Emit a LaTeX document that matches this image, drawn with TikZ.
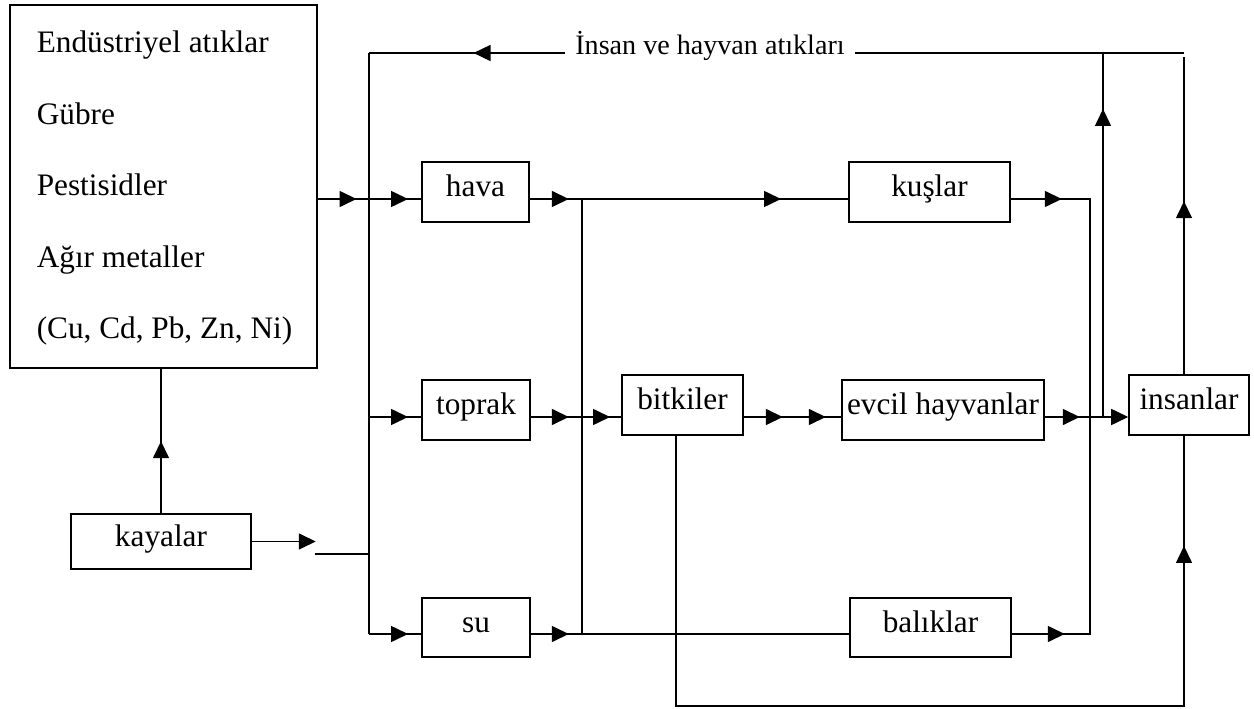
\documentclass[tikz,border=0pt]{standalone}
\usepackage{fontspec}
\setmainfont{Liberation Serif}
\usetikzlibrary{arrows.meta}

\tikzset{
    kutu/.style={draw, inner sep=0pt, text height=0.3cm, text depth=0.1cm},
    ok/.style={-{Triangle[length=0.34cm, width=0.32cm]}}
}

\begin{document}
\begin{tikzpicture}[x=0.02cm, y=-0.02cm, line width=0.9pt, font=\fontsize{17.8}{21}\selectfont]
        \useasboundingbox (0,0) rectangle (1254,709);

        % Nodes
        \node[draw, inner sep=0pt, minimum width=6.14cm, minimum height=7.26cm, anchor=north west] at (9,4) (kaynak) {};
        \foreach \satir [count=\i] in {Endüstriyel atıklar, Gübre, Pestisidler, Ağır metaller, {(Cu, Cd, Pb, Zn, Ni)}}
            \node[anchor=base west, inner sep=0pt] at (36, {53+71.5*(\i-1)}) (madde\i) {\satir};

        \node[kutu, minimum width=3.6cm, minimum height=1.1cm] at (161, 541.5) (kayalar) {kayalar};
        \node[kutu, minimum width=2.14cm, minimum height=1.2cm] at (475.5, 192) (hava) {hava};
        \node[kutu, minimum width=2.16cm, minimum height=1.2cm] at (476, 410) (toprak) {toprak};
        \node[kutu, minimum width=2.16cm, minimum height=1.18cm] at (476, 627.5) (su) {su};
        \node[kutu, minimum width=2.42cm, minimum height=1.2cm] at (682.5, 405) (bitkiler) {bitkiler};
        \node[kutu, minimum width=3.22cm, minimum height=1.2cm] at (929.5, 192) (kuslar) {kuşlar};
        \node[kutu, minimum width=4.04cm, minimum height=1.2cm] at (943, 410) (evcil) {evcil hayvanlar};
        \node[kutu, minimum width=3.22cm, minimum height=1.18cm] at (930.5, 627.5) (baliklar) {balıklar};
        \node[kutu, minimum width=2.4cm, minimum height=1.2cm] at (1189, 405) (insanlar) {insanlar};
        \node[anchor=base, inner xsep=0.2cm, font=\fontsize{16}{19}\selectfont] at (710, 55) (etiket) {İnsan ve hayvan atıkları};

        % Junctions
        \coordinate (a1) at (369, 53);
        \coordinate (a2) at (369, 199);
        \coordinate (a3) at (369, 417);
        \coordinate (a4) at (369, 554);
        \coordinate (a5) at (369, 634);
        \coordinate (b1) at (582, 199);
        \coordinate (b2) at (582, 417);
        \coordinate (b3) at (582, 634);
        \coordinate (c1) at (1090, 199);
        \coordinate (c2) at (1090, 634);
        \coordinate (d1) at (1103, 53);
        \coordinate (d2) at (1103, 417);
        \coordinate (e1) at (1184, 53);
        \coordinate (e2) at (1184, 706);
        \coordinate (f1) at (676, 706);

        % kaynak and kayalar
        \draw (kaynak.east |- a2) -- (hava.west |- a2);
        \draw[ok] (kaynak.east |- a2) -- ++(39,0);
        \draw[ok] (a2) -- ++(39,0);
        \draw (kayalar.north) -- (kayalar.north |- kaynak.south);
        \draw[ok] (kayalar.north) -- ++(0,-72);
        \draw[ok] (kayalar.east) -- ++(64,0);
        \draw (a4) -- ++(-54,0);

        % first trunk
        \draw (a1) -- (a5);
        \draw (a3) -- (toprak.west |- a3);
        \draw[ok] (a3) -- ++(39,0);
        \draw (a5) -- (su.west |- a5);
        \draw[ok] (a5) -- ++(39,0);

        % second trunk
        \draw (hava.east |- b1) -- (kuslar.west |- b1);
        \draw[ok] (hava.east |- b1) -- ++(39,0);
        \draw[ok] (b1) -- ++(199,0);
        \draw (b1) -- (b3);
        \draw (toprak.east |- b2) -- (bitkiler.west |- b2);
        \draw[ok] (toprak.east |- b2) -- ++(38,0);
        \draw[ok] (b2) -- ++(28,0);
        \draw (su.east |- b3) -- (baliklar.west |- b3);
        \draw[ok] (su.east |- b3) -- ++(38,0);

        \draw (bitkiler.east |- b2) -- (evcil.west |- b2);
        \draw[ok] (bitkiler.east |- b2) -- ++(39,0);
        \draw[ok] (bitkiler.east |- b2) -- ++(82,0);

        % to insanlar
        \draw (kuslar.east |- c1) -- (c1) -- (c2) -- (baliklar.east |- c2);
        \draw[ok] (kuslar.east |- c1) -- ++(51,0);
        \draw[ok] (baliklar.east |- c2) -- ++(53,0);
        \draw (evcil.east |- d2) -- (d2);
        \draw[ok] (evcil.east |- d2) -- ++(35,0);
        \draw[ok] (d2) -- (insanlar.west |- d2);

        % back to the top
        \draw (d2) -- (d1);
        \draw[ok] (d2) -- ++(0,-308);
        \draw (e1) -- (etiket.east |- e1);
        \draw (etiket.west |- a1) -- (a1);
        \draw[ok] (etiket.west |- a1) -- ++(-91,0);
        \draw (insanlar.north -| e1) -- ++(0,-317);
        \draw[ok] (insanlar.north -| e1) -- ++(0,-173);

        % bitkiler to insanlar
        \draw (bitkiler.south -| f1) -- (f1) -- (e2) -- (insanlar.south -| e2);
        \draw[ok] (e2) -- ++(0,-160);
    \end{tikzpicture}
\end{document}
